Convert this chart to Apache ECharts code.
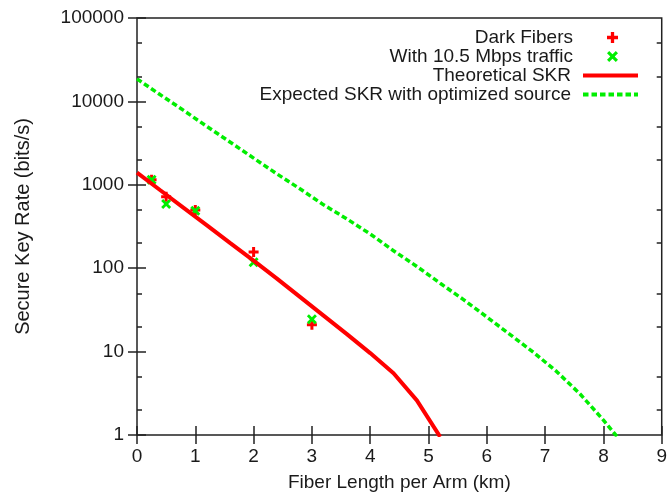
<!DOCTYPE html>
<html>
<head>
<meta charset="utf-8">
<script src="https://cdn.jsdelivr.net/npm/echarts@6/dist/echarts.min.js"></script>
<style>
    html, body { margin: 0; padding: 0; background: #fff; }
    #chart { width: 670px; height: 497px; }
</style>
</head>
<body>
<div id="chart"></div>
<script>
// measured points
const fiberX = [0.25, 0.5, 1, 2, 3]
const darkFiberY = [1150, 720, 500, 156, 21]
const trafficY = [1150, 590, 490, 118, 24.5]

// theoretical curve, sampled every 0.4 km
const theoX = [0, 0.4, 0.8, 1.2, 1.6, 2.0, 2.4, 2.8, 3.2, 3.6, 4.0, 4.4, 4.8, 5.2]
const theoY = [1400, 860, 530, 327, 200, 123, 75, 45, 27, 16.2, 9.6, 5.5, 2.6, 0.95]

// expected curve with optimized source
const optX = [0, 0.4, 0.8, 1.2, 1.6, 2.0, 2.4, 2.8, 3.2, 3.6, 4.0, 4.4, 4.8, 5.2, 5.6, 6.0, 6.4, 6.8, 7.2, 7.6, 8.0, 8.4]
const optY = [18600, 12000, 7800, 5000, 3240, 2090, 1350, 890, 575, 390, 257, 162, 105, 66, 42, 26, 16, 9.8, 5.75, 3.1, 1.51, 0.69]

// minor ticks of the log axis (2 and 5 of each decade)
const minorTicks = [2, 5, 20, 50, 200, 500, 2000, 5000, 20000, 50000]

const seriesNames = ['Dark Fibers', 'With 10.5 Mbps traffic', 'Theoretical SKR', 'Expected SKR with optimized source']

const RED = '#ff0000'
const GREEN = '#00ee00'
const AXIS = '#222'
const FONT = 'Liberation Sans'
const TEXT = '#1a1a1a'
const DASH = [5.5, 3]
const plusPath = 'path://M3.5,0H6.5V3.5H10V6.5H6.5V10H3.5V6.5H0V3.5H3.5Z'
const crossPath = 'path://M0,2L2,0L5,3L8,0L10,2L7,5L10,8L8,10L5,7L2,10L0,8L3,5Z'

const zip = (xs, ys) => xs.map((x, i) => [x, ys[i]])

const chart = echarts.init(document.getElementById('chart'))

const legendTops = [28, 47, 66, 85]
const legends = seriesNames.map((name, i) => ({
    data: [name],
    right: i < 2 ? 52 : 30,
    top: legendTops[i],
    align: 'right',
    padding: 0,
    itemWidth: 55,
    itemHeight: i < 2 ? 11 : 14,
    itemStyle: i < 2 ? {} : { opacity: 0 },
    lineStyle: i < 2 ? {} : { width: 4, type: i === 3 ? DASH : 'solid' },
    selectedMode: false,
    textStyle: {
        fontFamily: FONT,
        fontSize: 19,
        color: TEXT,
        padding: [0, 7, 0, 0],
    },
}))

const tickStyle = { inside: true, length: 9, lineStyle: { color: AXIS, width: 1.5 } }

const logAxis = {
    type: 'log',
    logBase: 10,
    min: 1,
    max: 100000,
    splitLine: { show: false },
    axisLine: { show: false },
    axisTick: tickStyle,
}

// helper axis in decades, only used to place the 2 and 5 minor ticks
const minorAxis = position => ({
    type: 'value',
    position,
    min: 0,
    max: 5,
    splitLine: { show: false },
    axisLine: { show: false },
    axisLabel: { show: false },
    axisTick: {
        inside: true,
        length: 5,
        customValues: minorTicks.map(v => Math.log10(v)),
        lineStyle: { color: AXIS, width: 1.5 },
    },
})

chart.setOption({
    animation: false,
    legend: legends,
    grid: {
        left: 137,
        right: 7,
        top: 18,
        bottom: 61,
        show: true,
        borderColor: AXIS,
        borderWidth: 1.5,
    },
    xAxis: [
        {
            type: 'value',
            min: 0,
            max: 9,
            interval: 1,
            name: 'Fiber Length per Arm (km)',
            nameLocation: 'middle',
            nameGap: 38,
            nameTextStyle: { fontFamily: FONT, fontSize: 19, color: TEXT },
            axisLine: { show: false },
            axisTick: tickStyle,
            axisLabel: { fontFamily: FONT, fontSize: 19, color: TEXT, margin: 12 },
            splitLine: { show: false },
        },
        {
            type: 'value',
            position: 'top',
            min: 0,
            max: 9,
            interval: 1,
            axisLine: { show: false },
            axisTick: tickStyle,
            axisLabel: { show: false },
            splitLine: { show: false },
        },
    ],
    yAxis: [
        {
            ...logAxis,
            position: 'left',
            name: 'Secure Key Rate (bits/s)',
            nameLocation: 'middle',
            nameGap: 104,
            nameTextStyle: { fontFamily: FONT, fontSize: 20, color: TEXT },
            axisLabel: {
                fontFamily: FONT,
                fontSize: 19,
                color: TEXT,
                margin: 13,
                formatter: v => String(Math.round(v)),
            },
        },
        {
            ...logAxis,
            position: 'right',
            axisLabel: { show: false },
        },
        minorAxis('left'),
        minorAxis('right'),
    ],
    series: [
        {
            name: seriesNames[0],
            type: 'scatter',
            symbol: plusPath,
            symbolSize: 10,
            itemStyle: { color: RED, opacity: 1 },
            z: 2,
            data: zip(fiberX, darkFiberY),
        },
        {
            name: seriesNames[1],
            type: 'scatter',
            symbol: crossPath,
            symbolSize: 10,
            itemStyle: { color: GREEN, opacity: 1 },
            z: 3,
            data: zip(fiberX, trafficY),
        },
        {
            name: seriesNames[2],
            type: 'line',
            symbol: 'none',
            clip: true,
            lineStyle: { color: RED, width: 4 },
            itemStyle: { color: RED },
            z: 4,
            data: zip(theoX, theoY),
        },
        {
            name: seriesNames[3],
            type: 'line',
            symbol: 'none',
            clip: true,
            lineStyle: { color: GREEN, width: 3.5, type: DASH },
            itemStyle: { color: GREEN },
            z: 5,
            data: zip(optX, optY),
        },
    ],
})
</script>
</body>
</html>
